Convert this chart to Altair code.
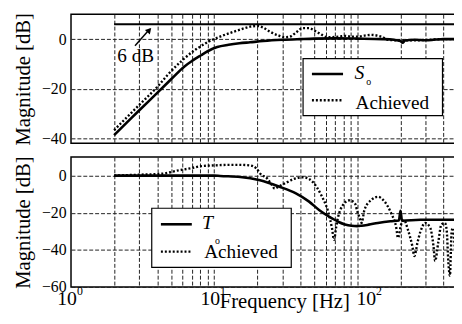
import altair as alt
import pandas as pd

FONT = "Liberation Serif, Times New Roman, serif"

# ---------------- data ----------------
s_freq = [2, 2.5, 3, 4, 5, 6.2, 7, 8.1, 9, 10.5, 12.6, 15, 17.8, 22, 30, 40, 50, 70, 100,
          150, 180, 200, 207, 215, 250, 300, 350, 400, 500]
s_mag = [-38.7, -33.2, -28.7, -21.7, -16.2, -11.0, -8.8, -6.5, -4.9, -3.2, -2.3, -1.7, -1.3,
         -0.8, -0.3, 0.0, 0.2, 0.3, 0.2, 0.0, -0.3, -0.8, -1.5, -0.6, -0.3, -0.5, -0.2, 0.0, 0.0]

sa_freq = [2, 3, 4, 4.77, 6, 7.3, 8.1, 9.5, 11.1, 13.7, 15.5, 17.8, 20.3, 22, 24.5, 28, 31,
           33.5, 37, 41.4, 46, 50, 54, 61.7, 66, 75, 82, 90, 100, 112, 125, 140, 150, 163,
           202, 250, 307, 400, 500]
sa_mag = [-36.7, -26.5, -19.3, -14.2, -8.5, -4.5, -2.8, -0.5, 1.1, 3.0, 4.0, 5.0, 5.3, 4.6,
          3.0, 1.5, 0.8, 0.9, 2.5, 4.4, 4.4, 3.5, 2.4, 0.8, 0.8, 1.0, 1.3, 1.0, 1.0, 1.4, 1.7,
          1.3, 0.8, -0.3, -0.5, -0.5, -0.3, 0.0, 0.0]

t_freq = [2, 5, 10, 11, 15.2, 20.9, 28.6, 37.2, 46, 54, 66.5, 74, 82, 91, 100, 107, 120,
          139, 170, 195, 200, 205, 276, 380, 420, 500]
t_mag = [0, 0, 0, -0.2, -0.7, -2.5, -6.0, -9.6, -14.0, -18.5, -23.0, -25.0, -26.3, -27.0,
         -27.2, -27.0, -26.4, -25.5, -24.6, -24.2, -19.0, -24.3, -23.8, -23.8, -23.8, -23.8]

ta_freq = [2, 3, 4.3, 5.6, 6.9, 8.1, 10, 12.6, 15.2, 17.8, 19.8, 21, 23.4, 25, 26.5, 28,
           31.5, 36, 42, 46, 49, 56, 62.5, 66.5, 68.7, 71, 73, 79, 88, 96, 100, 104, 107,
           112, 125, 139, 155, 172, 187, 192, 202, 212, 225, 242, 250, 263, 276, 298, 323,
           340, 349, 367, 386, 409, 420, 432, 443, 450, 455, 466, 478, 490, 500]
ta_mag = [0, 0.5, 1.0, 2.8, 4.0, 5.1, 5.5, 5.8, 5.8, 5.5, 3.7, 1.0, -1.5, -4.5, -7.0, -6.0,
          -4.0, -1.8, -0.9, -1.8, -3.6, -10.6, -19.5, -28.4, -34.6, -28.0, -23.0, -16.0,
          -13.3, -14.9, -19.4, -23.0, -25.5, -18.5, -13.1, -11.4, -14.0, -20.2, -28.2,
          -33.5, -26.4, -24.0, -29.0, -38.0, -43.3, -36.0, -30.0, -25.5, -28.2, -38.0,
          -46.0, -36.0, -26.4, -25.5, -29.0, -46.8, -54.0, -40.0, -30.0, -28.2, -38.0,
          -48.6, -55.7]

limit_db = [6]
limit_from = [2]
x_domain = [1, 520]
grid_freqs = [2, 3, 4, 5, 6, 7, 8, 9, 10, 20, 30, 40, 50, 60, 70, 80, 90, 100, 200, 300, 400, 500]
top_yticks = [0, -20, -40]
bot_yticks = [0, -20, -40, -60]
top_ydomain = [-42, 10]
bot_ydomain = [-60, 10]
decades = [1, 10, 100]
decade_base = ["10", "10", "10"]
decade_exp = ["0", "1", "2"]
top_legend = ["S", "o", "Achieved"]
bot_legend = ["T", "o", "Achieved"]
annotation = ["6 dB"]
y_title = "Magnitude [dB]"
x_title = ["Frequency [Hz]"]

W = 395
H1 = 131
H2 = 132

xs = alt.Scale(type="log", domain=x_domain, nice=False)


def curve_df(f, m):
    return pd.DataFrame({"f": f, "m": m})


def panel(ydomain, yticks, height, solid, dotted, legend, extra):
    ys = alt.Scale(domain=ydomain, nice=False, zero=False)
    xaxis = alt.Axis(values=grid_freqs, grid=True, labels=False, ticks=False,
                     domain=False, title=None, gridColor="#222", gridDash=[4, 2],
                     gridWidth=1, gridOpacity=1)
    yaxis = alt.Axis(values=yticks, grid=True, ticks=False, domain=False,
                     labelPadding=5, title=y_title, titlePadding=8,
                     labelFont=FONT, titleFont=FONT, labelFontSize=16, titleFontSize=21,
                     labelColor="black", titleColor="black", titleFontWeight="normal",
                     gridColor="#222", gridDash=[4, 2], gridWidth=1, gridOpacity=1)
    solid_line = alt.Chart(curve_df(*solid)).mark_line(
        color="black", strokeWidth=2.6, interpolate="monotone"
    ).encode(x=alt.X("f:Q", scale=xs, axis=xaxis), y=alt.Y("m:Q", scale=ys, axis=yaxis))
    dotted_line = alt.Chart(curve_df(*dotted)).mark_line(
        color="black", strokeWidth=2.4, strokeDash=[2, 2], interpolate="monotone"
    ).encode(x=alt.X("f:Q", scale=xs), y=alt.Y("m:Q", scale=ys))
    layers = [solid_line, dotted_line] + extra(ys) + legend
    return alt.layer(*layers).properties(width=W, height=height)


def legend_layers(lab, box, solid_y, dotted_y, sym_xy, sub_xy, ach_xy, line_x):
    d = pd.DataFrame({"t": lab})
    base = alt.Chart(d)
    one = base.transform_filter("datum.t == 'Achieved'")
    rect = one.mark_rect(fill="white", stroke="black", strokeWidth=1.2).encode(
        x=alt.value(box[0]), x2=alt.value(box[1]), y=alt.value(box[2]), y2=alt.value(box[3]))
    s1 = one.mark_rule(color="black", strokeWidth=2.6).encode(
        x=alt.value(line_x[0]), x2=alt.value(line_x[1]), y=alt.value(solid_y))
    s2 = one.mark_rule(color="black", strokeWidth=2.4, strokeDash=[2, 2]).encode(
        x=alt.value(line_x[0]), x2=alt.value(line_x[1]), y=alt.value(dotted_y))
    sym = base.transform_filter(alt.FieldEqualPredicate(field="t", equal=lab[0])).mark_text(
        font=FONT, fontSize=20, fontStyle="italic", align="left", baseline="alphabetic", color="black"
    ).encode(x=alt.value(sym_xy[0]), y=alt.value(sym_xy[1]), text="t:N")
    sub = base.transform_filter(alt.FieldEqualPredicate(field="t", equal=lab[1])).mark_text(
        font=FONT, fontSize=10, align="center", baseline="middle", color="black"
    ).encode(x=alt.value(sub_xy[0]), y=alt.value(sub_xy[1]), text="t:N")
    ach = one.mark_text(font=FONT, fontSize=19.5, align="left", baseline="alphabetic",
                        color="black").encode(x=alt.value(ach_xy[0]), y=alt.value(ach_xy[1]), text="t:N")
    return [rect, s1, s2, sym, sub, ach]


def top_extra(ys):
    lim = pd.DataFrame({"f0": limit_from, "f1": [x_domain[1]], "m": limit_db})
    rule = alt.Chart(lim).mark_rule(color="black", strokeWidth=2).encode(
        x=alt.X("f0:Q", scale=xs), x2="f1:Q", y=alt.Y("m:Q", scale=ys))
    ann = pd.DataFrame({"t": annotation})
    txt = alt.Chart(ann).mark_text(font=FONT, fontSize=19.5, align="left",
                                   baseline="alphabetic", color="black").encode(
        x=alt.value(47), y=alt.value(48.5), text="t:N")
    arrow = alt.Chart(ann).mark_rule(color="black", strokeWidth=1.5).encode(
        x=alt.value(65), y=alt.value(32), x2=alt.value(80), y2=alt.value(15))
    head = alt.Chart(ann).mark_point(shape="triangle-up", filled=True, color="black",
                                     size=45, angle=42, opacity=1).encode(
        x=alt.value(79.5), y=alt.value(16))
    return [rule, txt, arrow, head]


def bot_extra(ys):
    dec = pd.DataFrame({"f": decades, "b": decade_base, "e": decade_exp})
    low = alt.Chart(dec).transform_filter("datum.f < 50")
    high = alt.Chart(dec).transform_filter("datum.f > 50")
    txt_kw = dict(font=FONT, align="left", baseline="alphabetic", color="black")
    base_lo = low.mark_text(fontSize=20, dx=-14, **txt_kw).encode(
        x=alt.X("f:Q", scale=xs), y=alt.value(150.5), text="b:N")
    exp_lo = low.mark_text(fontSize=12, dx=6, **txt_kw).encode(
        x=alt.X("f:Q", scale=xs), y=alt.value(140), text="e:N")
    base_hi = high.mark_text(fontSize=20, dx=-1, **txt_kw).encode(
        x=alt.X("f:Q", scale=xs), y=alt.value(150.5), text="b:N")
    exp_hi = high.mark_text(fontSize=12, dx=19, **txt_kw).encode(
        x=alt.X("f:Q", scale=xs), y=alt.value(140), text="e:N")
    xt = alt.Chart(pd.DataFrame({"t": x_title})).mark_text(fontSize=21, **txt_kw).encode(
        x=alt.value(151), y=alt.value(153.5), text="t:N")
    return [base_lo, exp_lo, base_hi, exp_hi, xt]


top = panel(top_ydomain, top_yticks, H1, (s_freq, s_mag), (sa_freq, sa_mag),
            legend_layers(top_legend, (235.7, 377.3, 45, 103), 60.7, 87.3,
                          (288, 66), (302.3, 69), (289, 95.7), (244.7, 276.3)),
            top_extra)
bottom = panel(bot_ydomain, bot_yticks, H2, (t_freq, t_mag), (ta_freq, ta_mag),
               legend_layers(bot_legend, (82, 223.7, 52, 112), 68.3, 96,
                             (133, 72.7), (148.7, 85.5), (135.3, 102.7), (91.3, 122.7)),
               bot_extra)

chart = alt.vconcat(top, bottom, spacing=14, bounds="flush").properties(
    padding={"left": 4, "top": 1, "right": -10, "bottom": -3},
    background="white"
).configure_view(stroke="black", strokeWidth=1.5)

chart.save("out.html", embed_options={"renderer": "svg", "actions": False})
